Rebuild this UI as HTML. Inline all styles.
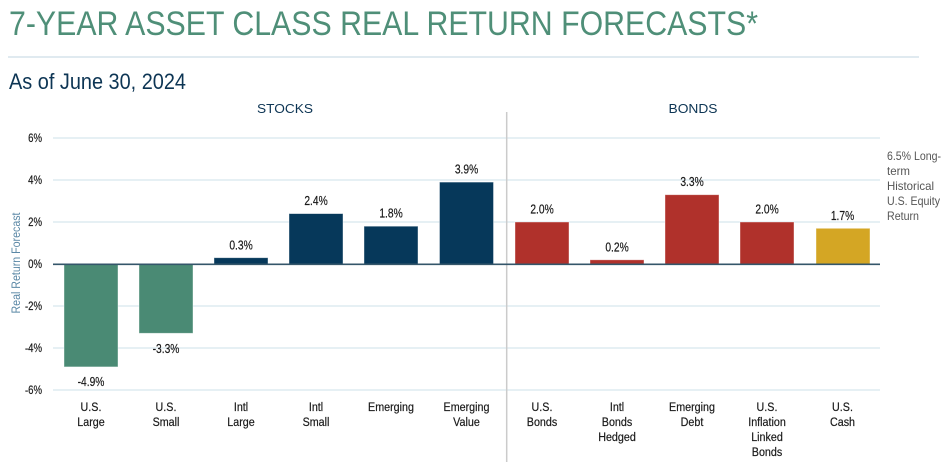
<!DOCTYPE html>
<html>
<head>
<meta charset="utf-8">
<style>
html,body{margin:0;padding:0;background:#fff;}
svg{display:block;}
text{font-family:"Liberation Sans",Arial,sans-serif;}
</style>
</head>
<body>
<svg width="946" height="462" viewBox="0 0 946 462" xmlns="http://www.w3.org/2000/svg">
<rect width="946" height="462" fill="#fff"/>
<!-- Title -->
<text x="9" y="35" font-size="34" fill="#4f8f78" textLength="749" lengthAdjust="spacingAndGlyphs">7-YEAR ASSET CLASS REAL RETURN FORECASTS*</text>
<line x1="8" y1="57" x2="919" y2="57" stroke="#e0eaf0" stroke-width="2"/>
<text x="9" y="89" font-size="22" fill="#0d3554" textLength="177" lengthAdjust="spacingAndGlyphs">As of June 30, 2024</text>
<text x="285" y="113" font-size="13" fill="#0d3554" text-anchor="middle" textLength="56" lengthAdjust="spacingAndGlyphs">STOCKS</text>
<text x="693" y="113" font-size="13" fill="#0d3554" text-anchor="middle" textLength="49" lengthAdjust="spacingAndGlyphs">BONDS</text>

<!-- gridlines -->
<g stroke="#d8e6ee" stroke-width="1.3">
<line x1="53" y1="138" x2="880" y2="138"/>
<line x1="53" y1="180" x2="880" y2="180"/>
<line x1="53" y1="222" x2="880" y2="222"/>
<line x1="53" y1="306" x2="880" y2="306"/>
<line x1="53" y1="348" x2="880" y2="348"/>
<line x1="53" y1="390" x2="880" y2="390"/>
</g>
<!-- y ticks -->
<g font-size="12" fill="#1a1a1a" text-anchor="end" stroke="#1a1a1a" stroke-width="0.2">
<text transform="translate(42,142) scale(0.8,1)">6%</text>
<text transform="translate(42,184) scale(0.8,1)">4%</text>
<text transform="translate(42,226) scale(0.8,1)">2%</text>
<text transform="translate(42,268) scale(0.8,1)">0%</text>
<text transform="translate(42,310) scale(0.8,1)">-2%</text>
<text transform="translate(42,352) scale(0.8,1)">-4%</text>
<text transform="translate(42,394) scale(0.8,1)">-6%</text>
</g>
<text transform="translate(20,263) rotate(-90)" font-size="11.5" fill="#5b88a6" text-anchor="middle" textLength="101" lengthAdjust="spacingAndGlyphs">Real Return Forecast</text>

<!-- divider -->
<line x1="506.7" y1="112" x2="506.7" y2="462" stroke="#cbcbcb" stroke-width="1.5"/>

<!-- bars -->
<g stroke="#ffffff" stroke-opacity="0.5" stroke-width="0.8">
<rect x="64" y="264" width="54" height="102.9" fill="#4a8a74"/>
<rect x="139" y="264" width="54" height="69.3" fill="#4a8a74"/>
<rect x="214" y="257.7" width="54" height="6.3" fill="#06385a"/>
<rect x="289" y="213.6" width="54" height="50.4" fill="#06385a"/>
<rect x="364" y="226.2" width="54" height="37.8" fill="#06385a"/>
<rect x="439.5" y="182.1" width="54" height="81.9" fill="#06385a"/>
<rect x="515" y="222" width="54" height="42" fill="#b0312b"/>
<rect x="590" y="259.8" width="54" height="4.2" fill="#b0312b"/>
<rect x="665" y="194.7" width="54" height="69.3" fill="#b0312b"/>
<rect x="740" y="222" width="54" height="42" fill="#b0312b"/>
<rect x="816" y="228.3" width="54" height="35.7" fill="#d4a624"/>
</g>
<line x1="53" y1="264.3" x2="880" y2="264.3" stroke="#34566a" stroke-width="1.6"/>

<!-- value labels -->
<g font-size="12.5" fill="#1a1a1a" text-anchor="middle" stroke="#1a1a1a" stroke-width="0.2">
<text transform="translate(91,386) scale(0.82,1)">-4.9%</text>
<text transform="translate(166,353) scale(0.82,1)">-3.3%</text>
<text transform="translate(241,249.5) scale(0.82,1)">0.3%</text>
<text transform="translate(316,205) scale(0.82,1)">2.4%</text>
<text transform="translate(391,217.5) scale(0.82,1)">1.8%</text>
<text transform="translate(466.5,173.5) scale(0.82,1)">3.9%</text>
<text transform="translate(542,213.5) scale(0.82,1)">2.0%</text>
<text transform="translate(617,251.5) scale(0.82,1)">0.2%</text>
<text transform="translate(692,186) scale(0.82,1)">3.3%</text>
<text transform="translate(767,213.5) scale(0.82,1)">2.0%</text>
<text transform="translate(842.5,220) scale(0.82,1)">1.7%</text>
</g>

<!-- category labels -->
<g font-size="12.2" fill="#1a1a1a" text-anchor="middle" stroke="#1a1a1a" stroke-width="0.2">
<text transform="translate(91,411) scale(0.88,1)">U.S.</text><text transform="translate(91,426) scale(0.88,1)">Large</text>
<text transform="translate(166,411) scale(0.88,1)">U.S.</text><text transform="translate(166,426) scale(0.88,1)">Small</text>
<text transform="translate(241,411) scale(0.88,1)">Intl</text><text transform="translate(241,426) scale(0.88,1)">Large</text>
<text transform="translate(316,411) scale(0.88,1)">Intl</text><text transform="translate(316,426) scale(0.88,1)">Small</text>
<text transform="translate(391,411) scale(0.88,1)">Emerging</text>
<text transform="translate(466.5,411) scale(0.88,1)">Emerging</text><text transform="translate(466.5,426) scale(0.88,1)">Value</text>
<text transform="translate(542,411) scale(0.88,1)">U.S.</text><text transform="translate(542,426) scale(0.88,1)">Bonds</text>
<text transform="translate(617,411) scale(0.88,1)">Intl</text><text transform="translate(617,426) scale(0.88,1)">Bonds</text><text transform="translate(617,441) scale(0.88,1)">Hedged</text>
<text transform="translate(692,411) scale(0.88,1)">Emerging</text><text transform="translate(692,426) scale(0.88,1)">Debt</text>
<text transform="translate(767,411) scale(0.88,1)">U.S.</text><text transform="translate(767,426) scale(0.88,1)">Inflation</text><text transform="translate(767,441) scale(0.88,1)">Linked</text><text transform="translate(767,456) scale(0.88,1)">Bonds</text>
<text transform="translate(842.5,411) scale(0.88,1)">U.S.</text><text transform="translate(842.5,426) scale(0.88,1)">Cash</text>
</g>

<!-- annotation -->
<g font-size="12" fill="#555">
<text x="887" y="160" textLength="54" lengthAdjust="spacingAndGlyphs">6.5% Long-</text>
<text x="887" y="175" textLength="23" lengthAdjust="spacingAndGlyphs">term</text>
<text x="887" y="190" textLength="47" lengthAdjust="spacingAndGlyphs">Historical</text>
<text x="887" y="205" textLength="53" lengthAdjust="spacingAndGlyphs">U.S. Equity</text>
<text x="887" y="220" textLength="32" lengthAdjust="spacingAndGlyphs">Return</text>
</g>
</svg>
</body>
</html>
